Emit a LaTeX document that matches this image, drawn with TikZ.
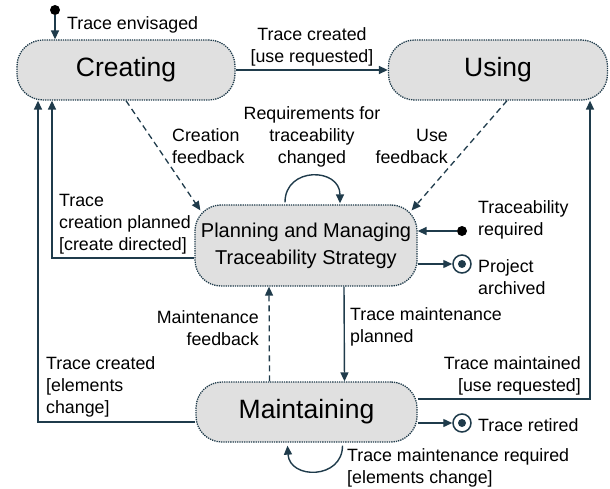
\documentclass[tikz,border=0pt]{standalone}
\usepackage{fontspec}
\setmainfont{Liberation Sans}
\usetikzlibrary{arrows.meta,calc}
\definecolor{ln}{HTML}{1F3B4B}
\definecolor{bx}{HTML}{E0E0E0}
\tikzset{
  state/.style={draw=ln, densely dotted, line width=1.3pt, fill=bx, rounded corners=26pt,
     inner sep=0pt, align=center, font=\fontsize{26.5}{30}\selectfont},
  lbl/.style={inner sep=0pt, font=\fontsize{17.8}{22}\selectfont},
  conn/.style={draw=ln, line width=1.4pt, -{Triangle[length=9pt,width=8pt]}},
  fb/.style={conn, dash pattern=on 6pt off 4pt, line width=1.3pt},
  initdot/.style={circle, fill=black, inner sep=0pt, minimum size=10pt},
  finalst/.style={circle, draw=ln, line width=1.5pt, fill=white, inner sep=0pt, minimum size=18pt,
     path picture={\fill[ln] (path picture bounding box.center) circle (4pt);}},
}
\begin{document}
\begin{tikzpicture}[x=1pt,y=-1pt]
\useasboundingbox (0,0) rectangle (610,489);
% states
\node[state, minimum width=218pt, minimum height=60pt] (creating) at (126,70) {Creating};
\node[state, minimum width=219pt, minimum height=60pt] (using) at (498,70) {Using};
\node[state, minimum width=222pt, minimum height=81pt, font=\fontsize{20}{27}\selectfont] (planning) at (306,245.5) {Planning and Managing\\Traceability Strategy};
\node[state, minimum width=221pt, minimum height=60pt] (maintaining) at (306.5,412) {Maintaining};
% pseudo states
\node[initdot] (init1) at (55,10) {};
\node[initdot] (init2) at (462,231) {};
\node[finalst] (fin1) at (462,264) {};
\node[finalst] (fin2) at (462,423) {};
% connectors
\draw[conn] (init1) -- (init1 |- creating.north);
\draw[conn] (creating.east) -- (using.west);
\draw[fb] (creating.south) -- ($(planning.north west)+(6,6)$);
\draw[fb] ([xshift=9pt]using.south) -- ($(planning.north east)+(-6,6)$);
\draw[conn] ([shift={(-21,-2)}]planning.north) .. controls +(0,-36) and +(0,-36) .. ([shift={(34,-1)}]planning.north);
\draw[conn] (init2) -- (init2 -| planning.east);
\draw[conn] (fin1 -| planning.east) -- (fin1);
\draw[conn] ([xshift=38pt]planning.south) -- ([xshift=38pt]maintaining.north);
\draw[fb] ([xshift=-37pt]maintaining.north) -- ([xshift=-37pt]planning.south);
\draw[conn] ([yshift=-12.5pt]planning.west) -| ([xshift=-74pt]creating.south);
\draw[conn] ([yshift=-10pt]maintaining.west) -| ([xshift=-88pt]creating.south);
\draw[conn] ([yshift=13pt]maintaining.east) -| ([xshift=92pt]using.south);
\draw[conn] (fin2 -| maintaining.east) -- (fin2);
\draw[conn] ([shift={(36,3)}]maintaining.south) .. controls +(0,34) and +(2,34) .. ([shift={(-19,3)}]maintaining.south);
% labels
\node[lbl, anchor=west] (l1) at (67,25) {Trace envisaged};
\node[lbl, align=center] (l2) at (312,47) {Trace created\\{[use requested]}};
\node[lbl, align=left, anchor=west] (l3) at (172,146) {Creation\\feedback};
\node[lbl, align=center] (l4) at (312,137) {Requirements for\\traceability\\changed};
\node[lbl, align=right, anchor=east] (l5) at (448,146) {Use\\feedback};
\node[lbl, align=left, anchor=west] (l6) at (478,220) {Traceability\\required};
\node[lbl, align=left, anchor=west] (l7) at (478,277) {Project\\archived};
\node[lbl, align=left, anchor=west] (l8) at (59,224) {Trace\\creation planned\\{[create directed]}};
\node[lbl, align=right, anchor=east] (l9) at (259,328) {Maintenance\\feedback};
\node[lbl, align=left, anchor=west] (l10) at (350,327) {Trace maintenance\\planned};
\node[lbl, align=left, anchor=west] (l11) at (46,387) {Trace created\\{[elements}\\change]};
\node[lbl, align=right, anchor=east] (l12) at (581,376) {Trace maintained\\{[use requested]}};
\node[lbl, anchor=west] (l13) at (478,425) {Trace retired};
\node[lbl, align=left, anchor=west] (l14) at (347,468) {Trace maintenance required\\{[elements change]}};
\end{tikzpicture}
\end{document}
